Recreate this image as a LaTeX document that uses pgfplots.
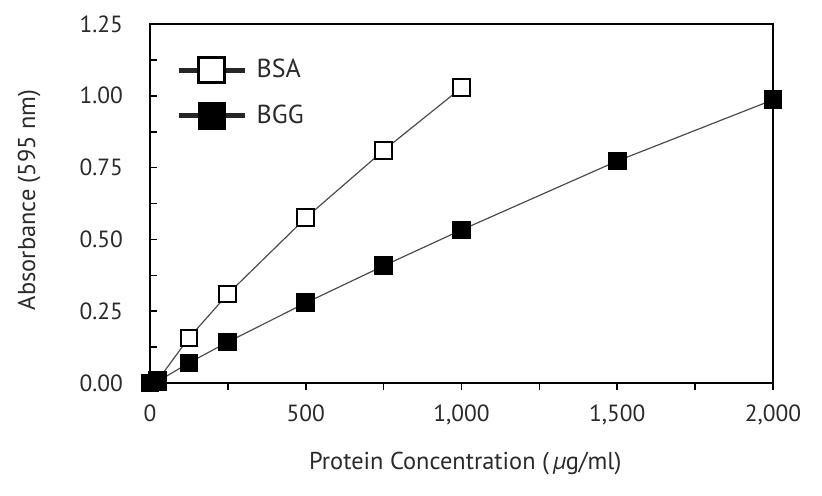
\documentclass[border=0pt]{standalone}
\usepackage{fontspec}
\setmainfont{PT Sans}
\usepackage{pgfplots}
\pgfplotsset{compat=1.18}
\definecolor{txt}{HTML}{2A2A2A}
\begin{document}
\begin{tikzpicture}
\begin{axis}[
 name=ax,
 scale only axis, width=311.5pt, height=179.5pt,
 xmin=0, xmax=2000, ymin=0, ymax=1.25,
 clip=false,
 axis line style={line width=1pt, black},
 xtick={0,500,1000,1500,2000}, minor xtick={250,750,1250,1750},
 ytick={0,0.25,0.5,0.75,1,1.25}, minor ytick={0.125,0.375,0.625,0.875,1.125},
 xtick pos=bottom, ytick pos=left,
 xtick align=outside, ytick align=inside,
 major tick length=3.5pt, minor tick length=3.5pt,
 tick style={line width=0.8pt, black},
 /pgf/number format/assume math mode=true,
 xticklabel style={/pgf/number format/1000 sep={,}, font=\fontsize{11.7}{12}\selectfont, text=txt, yshift=-4pt},
 yticklabel style={/pgf/number format/fixed, /pgf/number format/fixed zerofill, /pgf/number format/precision=2, font=\fontsize{11.7}{12}\selectfont, text=txt, xshift=-10pt},
 xlabel={Protein Concentration (\,{\itshape µ}g/ml)},
 ylabel={Absorbance (595 nm)},
 label style={font=\fontsize{12.2}{13}\selectfont, text=txt},
 xlabel style={at={(axis description cs:0.506,-0.223)}, anchor=center},
 ylabel style={at={(axis description cs:-0.194,0.51)}, anchor=center},
 legend style={draw=none, fill=none, at={(axis description cs:0.035,0.925)}, anchor=north west,
   font=\fontsize{13}{14}\selectfont, text=txt, row sep=8pt, inner sep=2pt},
 legend cell align=left,
]
\addplot[color=black!70, line width=0.6pt, mark=square*, mark size=4.2pt,
  mark options={fill=white, draw=black, line width=1pt, solid},
  legend image code/.code={
    \path[draw=none, fill=none] (0pt,0pt) -- (37pt,0pt);
    \draw[line width=2.5pt, black!85] (0pt,0pt) -- (33pt,0pt);
    \draw[line width=1.3pt, black, fill=white] (10pt,-6.2pt) rectangle (23pt,6.2pt);
  }]
 coordinates {(0,0) (25,0.01) (125,0.157) (250,0.31) (500,0.575) (750,0.81) (1000,1.028)};
\addlegendentry{BSA}
\addplot[color=black!70, line width=0.6pt, mark=square*, mark size=4.2pt,
  mark options={fill=black, draw=black, line width=1pt, solid},
  legend image code/.code={
    \path[draw=none, fill=none] (0pt,0pt) -- (37pt,0pt);
    \draw[line width=2.5pt, black!85] (0pt,0pt) -- (33pt,0pt);
    \draw[line width=1pt, black, fill=black] (10pt,-6.5pt) rectangle (23pt,6.5pt);
  }]
 coordinates {(0,0) (25,0.006) (125,0.07) (250,0.143) (500,0.279) (750,0.408) (1000,0.533) (1500,0.773) (2000,0.986)};
\addlegendentry{BGG}
\end{axis}
\path (ax.south west) ++(-75pt,-56pt) coordinate (bl);
\path (ax.north east) ++(24.5pt,12pt) coordinate (tr);
\path (bl) rectangle (tr);
\end{tikzpicture}
\end{document}
